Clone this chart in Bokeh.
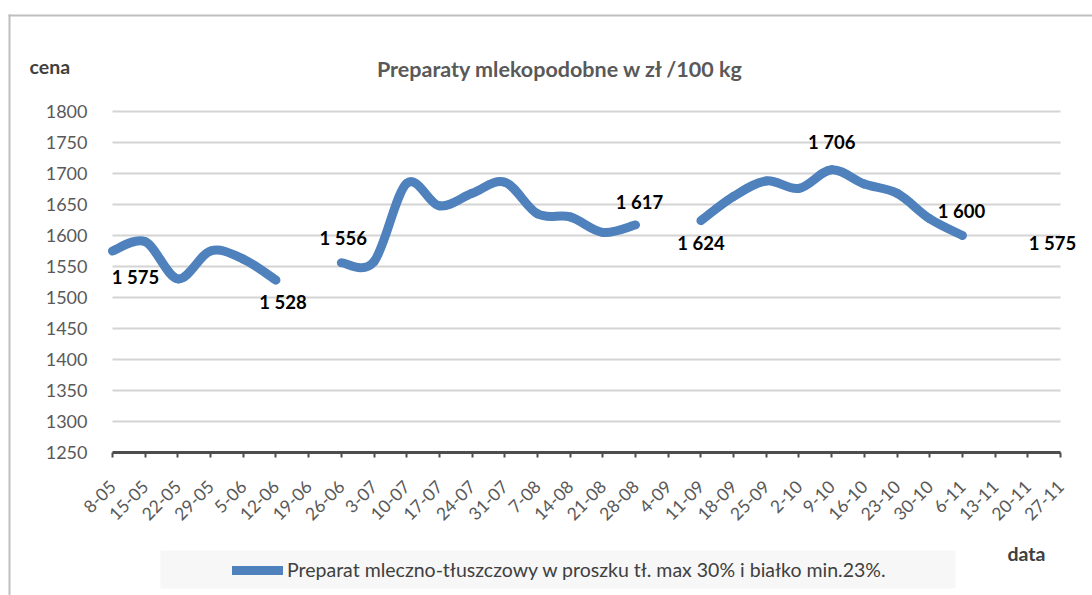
from bokeh.plotting import figure
from bokeh.models import (Range1d, FixedTicker, Label, LabelSet, ColumnDataSource,
                          Legend, LegendItem, BoxAnnotation, LinearAxis)
from bokeh.core.properties import value
from bokeh.embed import file_html
from bokeh.resources import INLINE
import math

# ---------------- data ----------------
dates = ["8-05", "15-05", "22-05", "29-05", "5-06", "12-06", "19-06", "26-06", "3-07",
         "10-07", "17-07", "24-07", "31-07", "7-08", "14-08", "21-08", "28-08", "4-09",
         "11-09", "18-09", "25-09", "2-10", "9-10", "16-10", "23-10", "30-10", "6-11",
         "13-11", "20-11", "27-11"]
prices = [1575, 1590, 1530, 1575, 1562, 1528, None, 1556, 1558,
          1684, 1648, 1668, 1686, 1635, 1630, 1605, 1617, None,
          1624, 1663, 1688, 1676, 1706, 1683, 1668, 1627, 1600,
          None, None, 1575]
labelled_idx = [0, 5, 7, 16, 18, 22, 26, 29]
y_ticks = [1250, 1300, 1350, 1400, 1450, 1500, 1550, 1600, 1650, 1700, 1750, 1800]
series_name = "Preparat mleczno-tłuszczowy w proszku tł. max 30% i białko min.23%."
title_text = "Preparaty mlekopodobne w zł /100 kg"

# ---------------- layout / styles ----------------
FONT = "Lato"
BLUE = "#4f81bd"
W, H = 1092, 595
# plot area in page pixels: first/last category and y extremes
PX_L, PX_R, PY_T, PY_B = 112, 1060, 111, 452
xs_per = (PX_R - PX_L) / (len(dates) - 1)
ys_per = (PY_B - PY_T) / (y_ticks[-1] - y_ticks[0])
x_start = 0 - PX_L / xs_per
x_end = (len(dates) - 1) + (W - PX_R) / xs_per
y_end = y_ticks[-1] + PY_T / ys_per
y_start = y_ticks[0] - (H - PY_B) / ys_per

label_dx = [23, 7, 2, 4, 0, 0, -1, -8]
label_dy = [-26, -22, 25, 23, -22, 28, 25, 8]

p = figure(width=W, height=H, output_backend="svg", toolbar_location=None,
           x_range=Range1d(x_start, x_end), y_range=Range1d(y_start, y_end),
           min_border_left=0, min_border_right=0, min_border_top=0, min_border_bottom=0,
           x_axis_location=None, y_axis_location=None)
p.outline_line_color = None
p.background_fill_color = "white"
p.border_fill_color = "white"
p.grid.visible = False

def sx(px):
    return px

def sy(py):
    return H - py

# gridlines (limited to the category span)
p.segment(x0=[0] * len(y_ticks[1:]), x1=[len(dates) - 1] * len(y_ticks[1:]),
          y0=y_ticks[1:], y1=y_ticks[1:], line_color="#d4d4d4", line_width=2)

# axes drawn at fixed data locations
xaxis = LinearAxis(fixed_location=y_ticks[0], bounds=(0, len(dates) - 1))
xaxis.ticker = FixedTicker(ticks=list(range(len(dates))))
xaxis.major_label_overrides = {i: d for i, d in enumerate(dates)}
xaxis.major_label_orientation = math.pi / 4
xaxis.major_label_text_font = FONT
xaxis.major_label_text_font_size = "17.5px"
xaxis.major_label_text_color = "#595959"
xaxis.axis_line_color = "#4d4d4d"
xaxis.axis_line_width = 3
xaxis.major_tick_line_color = "#4d4d4d"
xaxis.major_tick_line_width = 2
xaxis.major_tick_out = 5
xaxis.major_tick_in = 0
xaxis.minor_tick_line_color = None
xaxis.major_label_standoff = 26
p.add_layout(xaxis, "below")

yaxis = LinearAxis(fixed_location=0, bounds=(y_ticks[0], y_ticks[-1]))
yaxis.ticker = FixedTicker(ticks=y_ticks)
yaxis.major_label_text_font = FONT
yaxis.major_label_text_font_size = "18px"
yaxis.major_label_text_color = "#595959"
yaxis.axis_line_color = None
yaxis.major_tick_line_color = None
yaxis.minor_tick_line_color = None
yaxis.major_label_standoff = 19
p.add_layout(yaxis, "left")

# smoothed line via bezier segments computed from the data
x0s, y0s, x1s, y1s, cx0s, cy0s, cx1s, cy1s = [], [], [], [], [], [], [], []
n = len(prices)
for i in range(n - 1):
    if prices[i] is None or prices[i + 1] is None:
        continue
    xa, ya = i, prices[i]
    xb, yb = i + 1, prices[i + 1]
    if i - 1 >= 0 and prices[i - 1] is not None:
        xp, yp = i - 1, prices[i - 1]
    else:
        xp, yp = xa, ya
    if i + 2 < n and prices[i + 2] is not None:
        xn, yn = i + 2, prices[i + 2]
    else:
        xn, yn = xb, yb
    x0s.append(xa); y0s.append(ya); x1s.append(xb); y1s.append(yb)
    cx0s.append(xa + (xb - xp) / 6); cy0s.append(ya + (yb - yp) / 6)
    cx1s.append(xb - (xn - xa) / 6); cy1s.append(yb - (yn - ya) / 6)

src = ColumnDataSource(dict(x0=x0s, y0=y0s, x1=x1s, y1=y1s, cx0=cx0s, cy0=cy0s, cx1=cx1s, cy1=cy1s))
bz = p.bezier(x0="x0", y0="y0", x1="x1", y1="y1", cx0="cx0", cy0="cy0", cx1="cx1", cy1="cy1",
              source=src, line_color=BLUE, line_width=9, line_cap="round")

# data labels
lab_src = ColumnDataSource(dict(
    x=labelled_idx,
    y=[prices[i] for i in labelled_idx],
    t=[f"{prices[i]:,}".replace(",", " ") for i in labelled_idx],
    dx=label_dx, dy=label_dy))
p.add_layout(LabelSet(x="x", y="y", text="t", source=lab_src, x_offset="dx", y_offset="dy",
                      text_font=value(FONT), text_font_size="18.5px", text_font_style="bold",
                      text_color="#000000", text_align="center", text_baseline="middle"))

# chart frame border (left & top) and legend background
def sbox(l, r, t, b, color):
    return BoxAnnotation(left=sx(l), right=sx(r), top=sy(t), bottom=sy(b),
                         left_units="screen", right_units="screen", top_units="screen",
                         bottom_units="screen", fill_color=color, fill_alpha=1,
                         line_color=None, level="underlay")

p.add_layout(sbox(8, 10, 14, 600, "#bfbfbf"))
p.add_layout(sbox(8, 1100, 14, 16, "#bfbfbf"))
p.add_layout(sbox(160, 955, 550, 588, "#f7f7f7"))

# texts
p.add_layout(Label(x=sx(560), y=sy(68), x_units="screen", y_units="screen", text=title_text,
                   text_font=FONT, text_font_size="21.5px", text_font_style="bold",
                   text_color="#595959", text_align="center", text_baseline="middle"))
p.add_layout(Label(x=sx(29), y=sy(66), x_units="screen", y_units="screen", text="cena",
                   text_font=FONT, text_font_size="19.5px", text_font_style="bold",
                   text_color="#404040", text_align="left", text_baseline="middle"))
p.add_layout(Label(x=sx(1007), y=sy(553), x_units="screen", y_units="screen", text="data",
                   text_font=FONT, text_font_size="19.5px", text_font_style="bold",
                   text_color="#404040", text_align="left", text_baseline="middle"))

legend = Legend(items=[LegendItem(label=series_name, renderers=[bz])],
                location=(sx(232), sy(581)), padding=0, margin=0, spacing=0,
                glyph_width=51, glyph_height=22, label_height=22, label_standoff=4,
                label_text_font=FONT, label_text_font_size="19.5px", label_text_color="#404040",
                background_fill_alpha=0, border_line_color=None)
p.add_layout(legend, "center")

open("out.html", "w").write(file_html(p, INLINE))
